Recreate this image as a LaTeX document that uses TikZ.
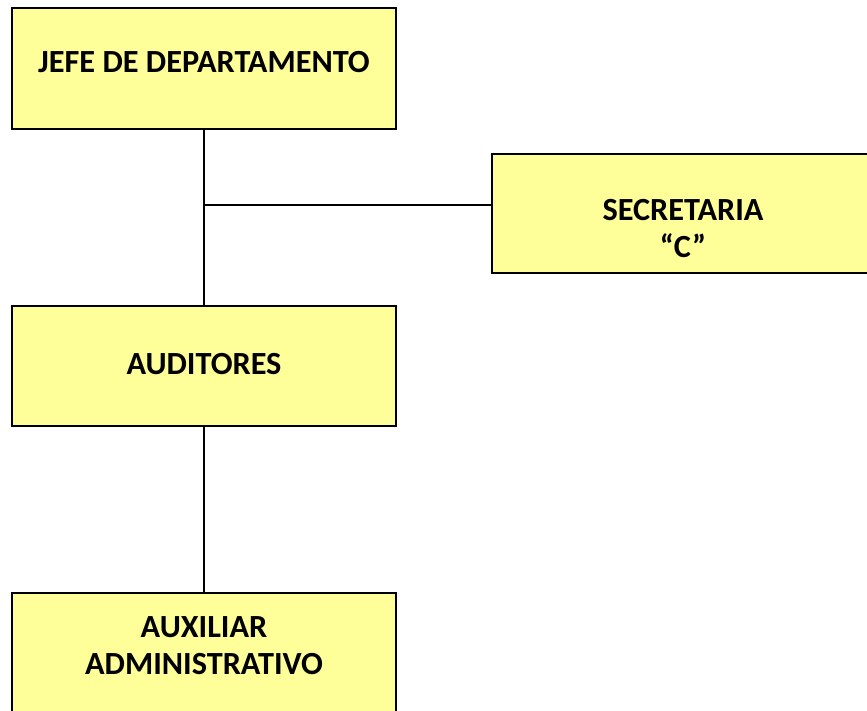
\documentclass[tikz,border=0pt]{standalone}
\usepackage{fontspec}
\setmainfont{Carlito}
\usepackage{tikz}
\usetikzlibrary{positioning}
\definecolor{cajaamarilla}{HTML}{FFFF99}

\begin{document}
\begin{tikzpicture}[x=1pt,y=-1pt,
    caja/.style={draw,fill=cajaamarilla,line width=1.5pt,inner sep=0pt},
    every label/.style={font=\bfseries\fontsize{32.3}{37}\selectfont,align=center,inner sep=0pt},
    enlace/.style={line width=1.5pt}]
  \useasboundingbox (0,0) rectangle (867,711);
  \clip (0,0) rectangle (867,711);
  \node[caja,minimum width=384pt,minimum height=121pt] (jefe) at (204,68.5)
    [label={[yshift=6]center:JEFE DE DEPARTAMENTO}]{};
  \node[caja,minimum width=376pt,minimum height=119pt] (secretaria) at (680,213.5)
    [label={[xshift=3,yshift=-15.5]center:SECRETARIA\\“C”}]{};
  \node[caja,minimum width=384pt,minimum height=120pt] (auditores) at (204,366)
    [label={[yshift=1.5]center:AUDITORES}]{};
  \node[caja,minimum width=384pt,minimum height=121pt] (auxiliar) at (204,653.5)
    [label={[yshift=7.5]center:AUXILIAR\\ADMINISTRATIVO}]{};
  \coordinate (union) at (204,205);
  \draw[enlace](jefe)--(auditores);
  \draw[enlace](auditores)--(auxiliar);
  \draw[enlace](union)--(union -| secretaria.west);
\end{tikzpicture}
\end{document}
